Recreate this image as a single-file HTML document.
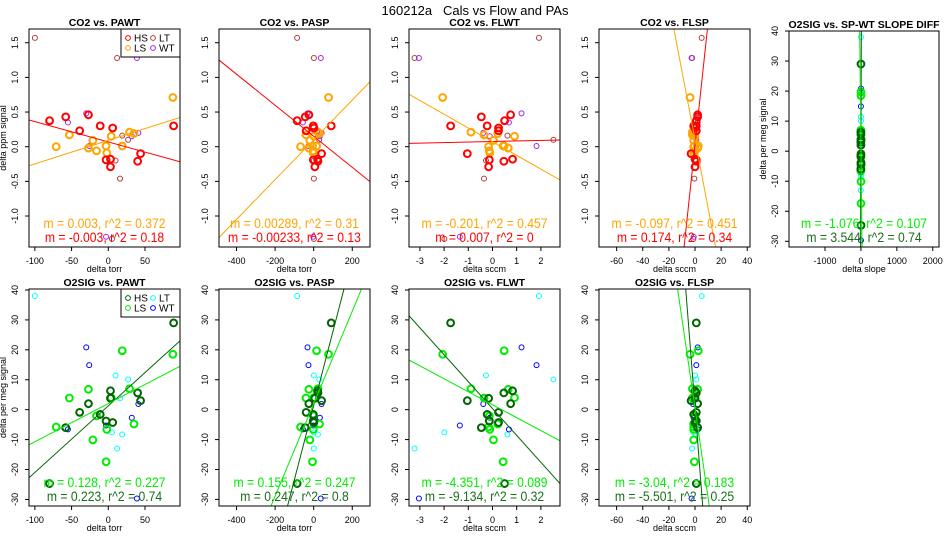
<!DOCTYPE html>
<html><head><meta charset="utf-8"><style>
html,body{margin:0;background:#fff;overflow:hidden;width:950px;height:550px}
svg{display:block;font-family:"Liberation Sans",sans-serif}
</style></head><body>
<svg id="chart" width="950" height="550" viewBox="0 0 950 550" xmlns="http://www.w3.org/2000/svg">
<rect width="950" height="550" fill="#fff"/>
<text x="475" y="15" text-anchor="middle" font-size="13" style="white-space:pre" xml:space="preserve">160212a   Cals vs Flow and PAs</text>
</svg>
<script>
// ---- data (per sample group) ----
const co2_HS = [0.375,0.43,0.23,0.46,0.30,0.27,-0.19,-0.18,-0.29,-0.21,-0.10,0.30];
const co2_LS = [0.0,0.17,-0.02,0.09,-0.06,0.01,-0.09,0.15,0.01,0.21,0.19,0.71];
const co2_LT = [1.57,1.28,0.16,0.10,-0.46,-1.33,-0.20];
const co2_WT = [0.35,0.48,0.01,0.15,0.20,1.28,-1.30];
const o2_HS = [-24.7,-6.0,-0.9,2.0,-1.6,-4.3,-3.8,6.3,3.8,5.6,3.0,29.0];
const o2_LS = [-5.8,3.9,6.8,-10.1,-2.1,-17.4,-6.6,4.0,19.7,7.0,-4.8,18.5];
const o2_LT = [38,-13,-8.3,10.1,3.8,-7.6,11.4];
const o2_WT = [-6.6,20.8,14.9,-2.7,1.9,-29.7,-5.3];
const pawt_HS = [-80,-58,-39,-27,-11,6,-3,3,3,40,44,89];
const pawt_LS = [-71,-53,-27,-21,-16,-3,-2,4,19,29,35,88];
const pawt_LT = [-100,12,19,27,16,5,10];
const pawt_WT = [-55,-30,-26,32,41,39,-3];
const pasp_HS = [-86,-44,-39,-25,-2,1,-2,20,6,22,41,91];
const pasp_LS = [-68,-40,-25,-20,-2,-6,-2,1,15,22,30,77];
const pasp_LT = [-86,1,22,29,1,1,1];
const pasp_WT = [-56,-32,-27,32,41,37,-2];
const flwt_HS = [0.5,-0.46,0.25,0.75,-0.22,0.25,-0.13,0.83,-0.16,0.47,-1.04,-1.73];
const flwt_LS = [-0.16,-0.35,0.65,0.04,-0.13,0.44,-0.11,0.91,0.48,-0.89,0.22,-2.06];
const flwt_LT = [1.92,-3.22,0.62,2.52,-0.35,-1.99,-0.27];
const flwt_WT = [0.68,1.2,1.82,-0.11,-0.38,-3.04,-1.35];
const flsp_HS = [1,2,1,2,-1,0,1,0,0,1,-3,1];
const flsp_LS = [-1,-2,2,-1,0,-0.5,-1,0,2.5,-2,-1,-3.8];
const flsp_LT = [5.1,-2.2,0.5,1,-0.5,-1.3,0];
const flsp_WT = [2,2,1,-1,-1.5,-2.6,-1];
const sdiff_HS = [2,-3,1,0,-2,3,1,-1,2,0,-2,1];
const sdiff_LS = [-1,2,0,3,-2,1,-3,2,0,-1,1,2];
const sdiff_LT = [1,-2,0,2,-1,1,0];
const sdiff_WT = [0,2,-1,1,-2,0,1];
// fits: [intercept, slope]
const fit_co2_pawt_HS = [0.069,-0.00293], fit_co2_pawt_LS = [0.091,0.00339];
const fit_co2_pasp_HS = [0.150,-0.00224], fit_co2_pasp_LS = [0.099,0.00287];
const fit_co2_flwt_HS = [0.075,0.0077], fit_co2_flwt_LS = [0.072,-0.198];
const fit_co2_flsp_HS = [0.027,0.176], fit_co2_flsp_LS = [0.104,-0.0985];
const fit_o2_sdiff_HS = [0.5,3.544], fit_o2_sdiff_LS = [2.0,-1.076];
const fit_o2_pawt_HS = [1.26,0.2225], fit_o2_pawt_LS = [2.04,0.1276];
const fit_o2_pasp_HS = [1.4,0.2478], fit_o2_pasp_LS = [2.0,0.1545];
const fit_o2_flwt_HS = [0.38,-8.99], fit_o2_flwt_LS = [1.66,-4.33];
const fit_o2_flsp_HS = [0.7,-5.58], fit_o2_flsp_LS = [0.5,-2.99];
// stat labels
const stat_LS = ["m = 0.003, r^2 = 0.372","m = 0.00289, r^2 = 0.31","m = -0.201, r^2 = 0.457","m = -0.097, r^2 = 0.451","m = -1.076, r^2 = 0.107","m = 0.128, r^2 = 0.227","m = 0.155, r^2 = 0.247","m = -4.351, r^2 = 0.089","m = -3.04, r^2 = 0.183"];
const stat_HS = ["m = -0.003, r^2 = 0.18","m = -0.00233, r^2 = 0.13","m = 0.007, r^2 = 0","m = 0.174, r^2 = 0.34","m = 3.544, r^2 = 0.74","m = 0.223, r^2 = 0.74","m = 0.247, r^2 = 0.8","m = -9.134, r^2 = 0.32","m = -5.501, r^2 = 0.25"];
const ticks_co2 = [-1.0,-0.5,0.0,0.5,1.0,1.5];
const ticks_o2 = [-30,-20,-10,0,10,20,30,40];
const ticks_pawt = [-100,-50,0,50];
const ticks_pasp = [-400,-200,0,200];
const ticks_flwt = [-3,-2,-1,0,1,2];
const ticks_flsp = [-60,-40,-20,0,20,40];
const ticks_sdiff = [-1000,0,1000,2000];

const NS = "http://www.w3.org/2000/svg";
const svg = document.getElementById('chart');
function mk(tag, attrs, parent){const e=document.createElementNS(NS,tag);for(const k in attrs)e.setAttribute(k,attrs[k]);(parent||svg).appendChild(e);return e;}

const topCols = {HS:"#ff0000",LS:"#ffa500",LT:"#b03c3c",WT:"#a020f0"};
const botCols = {HS:"#006400",LS:"#00ee00",LT:"#00ffff",WT:"#0000ff"};
const co2 = {HS:co2_HS,LS:co2_LS,LT:co2_LT,WT:co2_WT};
const o2 = {HS:o2_HS,LS:o2_LS,LT:o2_LT,WT:o2_WT};
const X = {
 pawt:{HS:pawt_HS,LS:pawt_LS,LT:pawt_LT,WT:pawt_WT},
 pasp:{HS:pasp_HS,LS:pasp_LS,LT:pasp_LT,WT:pasp_WT},
 flwt:{HS:flwt_HS,LS:flwt_LS,LT:flwt_LT,WT:flwt_WT},
 flsp:{HS:flsp_HS,LS:flsp_LS,LT:flsp_LT,WT:flsp_WT},
 sdiff:{HS:sdiff_HS,LS:sdiff_LS,LT:sdiff_LT,WT:sdiff_WT}
};
const xdoms = {pawt:[-108,97.7],pasp:[-491,292],flwt:[-3.45,2.79],flsp:[-73.5,42.1],sdiff:[-2003,2174]};
const xticks = {pawt:ticks_pawt,pasp:ticks_pasp,flwt:ticks_flwt,flsp:ticks_flsp,sdiff:ticks_sdiff};
const xlabels = {pawt:"delta torr",pasp:"delta torr",flwt:"delta sccm",flsp:"delta sccm",sdiff:"delta slope"};

const panels = [
 {L:29,R:180,T:29,B:247,x:"pawt",y:"co2",title:"CO2 vs. PAWT",fits:[fit_co2_pawt_HS,fit_co2_pawt_LS],legend:true},
 {L:219,R:370,T:29,B:247,x:"pasp",y:"co2",title:"CO2 vs. PASP",fits:[fit_co2_pasp_HS,fit_co2_pasp_LS]},
 {L:409,R:560,T:29,B:247,x:"flwt",y:"co2",title:"CO2 vs. FLWT",fits:[fit_co2_flwt_HS,fit_co2_flwt_LS]},
 {L:599,R:750,T:29,B:247,x:"flsp",y:"co2",title:"CO2 vs. FLSP",fits:[fit_co2_flsp_HS,fit_co2_flsp_LS]},
 {L:789,R:939,T:31,B:247,x:"sdiff",y:"o2",title:"O2SIG vs. SP-WT SLOPE DIFF",fits:[fit_o2_sdiff_HS,fit_o2_sdiff_LS],p5:true},
 {L:29,R:180,T:289,B:506,x:"pawt",y:"o2",title:"O2SIG vs. PAWT",fits:[fit_o2_pawt_HS,fit_o2_pawt_LS],legend:true},
 {L:219,R:370,T:289,B:506,x:"pasp",y:"o2",title:"O2SIG vs. PASP",fits:[fit_o2_pasp_HS,fit_o2_pasp_LS]},
 {L:409,R:560,T:289,B:506,x:"flwt",y:"o2",title:"O2SIG vs. FLWT",fits:[fit_o2_flwt_HS,fit_o2_flwt_LS]},
 {L:599,R:750,T:289,B:506,x:"flsp",y:"o2",title:"O2SIG vs. FLSP",fits:[fit_o2_flsp_HS,fit_o2_flsp_LS]}
];

panels.forEach((p,i)=>{
 const isO2 = p.y==="o2";
 const cols = isO2 ? botCols : topCols;
 const ydom = p.p5 ? [-31.9,40] : (isO2 ? [-32.2,40.33] : [-1.447,1.698]);
 const xdom = xdoms[p.x];
 const sx = v => p.L + (v-xdom[0])/(xdom[1]-xdom[0])*(p.R-p.L);
 const sy = v => p.B - (v-ydom[0])/(ydom[1]-ydom[0])*(p.B-p.T);
 const g = mk('g',{});
 
 
 const cp = mk('clipPath',{id:'clip'+i},g);
 mk('rect',{x:p.L,y:p.T,width:p.R-p.L,height:p.B-p.T},cp);
 const t = mk('text',{x:(p.L+p.R)/2,y:p.T-3,'text-anchor':'middle','font-size':10.5,'font-weight':'bold'},g);
 
 
 t.textContent = p.title;
 xticks[p.x].forEach(v=>{
  const X0 = sx(v);
  const tl = mk('line',{x1:X0,x2:X0,y1:p.B,y2:p.B+4,stroke:'#000','stroke-width':1},g);
  
  
  const tx = mk('text',{x:X0,y:p.B+17,'text-anchor':'middle','font-size':9},g);
  
  
  tx.textContent = v;
 });
 const yt = isO2 ? ticks_o2 : ticks_co2;
 yt.forEach(v=>{
  const Y0 = sy(v);
  const tl = mk('line',{x1:p.L-4,x2:p.L,y1:Y0,y2:Y0,stroke:'#000','stroke-width':1},g);
  
  
  const tx = mk('text',{x:p.L-11,y:Y0,'text-anchor':'middle','font-size':9,transform:`rotate(-90 ${p.L-11} ${Y0})`},g);
  
  
  tx.textContent = isO2 ? v : v.toFixed(1);
 });
 const xt = mk('text',{x:(p.L+p.R)/2,y:p.B+25,'text-anchor':'middle','font-size':9},g);
 
 
 xt.textContent = xlabels[p.x];
 if(i===0||i===4||i===5){
  const cx = p.L-23, cy = (p.T+p.B)/2;
  const ytt = mk('text',{x:cx,y:cy,'text-anchor':'middle','font-size':9,transform:`rotate(-90 ${cx} ${cy})`},g);
  
  
  ytt.textContent = isO2 ? "delta per meg signal" : "delta ppm signal";
 }
 const ysrc = isO2 ? o2 : co2;
 const pg = mk('g',{'clip-path':`url(#clip${i})`},g);
 ["LT","WT","LS","HS"].forEach(grp=>{
  const thick = grp==="HS"||grp==="LS";
  X[p.x][grp].forEach((xv,k)=>{
   const c = mk('circle',{cx:sx(xv),cy:sy(ysrc[grp][k]),r:thick?3.4:2.5,fill:'none',stroke:cols[grp],'stroke-width':thick?2:1},pg);
   
   
  });
 });
 [["HS",p.fits[0]],["LS",p.fits[1]]].forEach(([grp,f])=>{
  const ln = mk('line',{x1:sx(xdom[0]),y1:sy(f[0]+f[1]*xdom[0]),x2:sx(xdom[1]),y2:sy(f[0]+f[1]*xdom[1]),stroke:cols[grp],'stroke-width':1},pg);
  
  
 });
 const cxm = (p.L+p.R)/2;
 const g1 = mk('g',{transform:`translate(${cxm} ${p.B-19}) scale(0.87 1)`},g);
 const s1 = mk('text',{x:0,y:0,'text-anchor':'middle','font-size':14,fill:isO2?'#00ee00':'#ffa500'},g1);
 
 
 s1.textContent = stat_LS[i];
 const g2 = mk('g',{transform:`translate(${cxm} ${p.B-5}) scale(0.87 1)`},g);
 const s2 = mk('text',{x:0,y:0,'text-anchor':'middle','font-size':14,fill:isO2?'#1a6e1a':'#ff0000'},g2);
 
 
 s2.textContent = stat_HS[i];
 if(p.legend){
  const lg = mk('g',{},g);
  
  
  mk('rect',{x:121,y:p.T,width:p.R-121,height:28,fill:'#fff',stroke:'#000','stroke-width':1},lg);
  [["HS",128,p.T+9],["LT",153,p.T+9],["LS",128,p.T+19],["WT",153,p.T+19]].forEach(([grp,lx,ly])=>{
   const e = mk('g',{},lg);
   
   
   mk('circle',{cx:lx,cy:ly,r:2.4,fill:'none',stroke:cols[grp],'stroke-width':1},e);
   const lt = mk('text',{x:lx+6,y:ly+3.5,'font-size':10},e);
   lt.textContent = grp;
  });
 }
 const bx = mk('rect',{x:p.L,y:p.T,width:p.R-p.L,height:p.B-p.T,fill:'none',stroke:'#000','stroke-width':1},g);
 
 
});
</script>
</body></html>
